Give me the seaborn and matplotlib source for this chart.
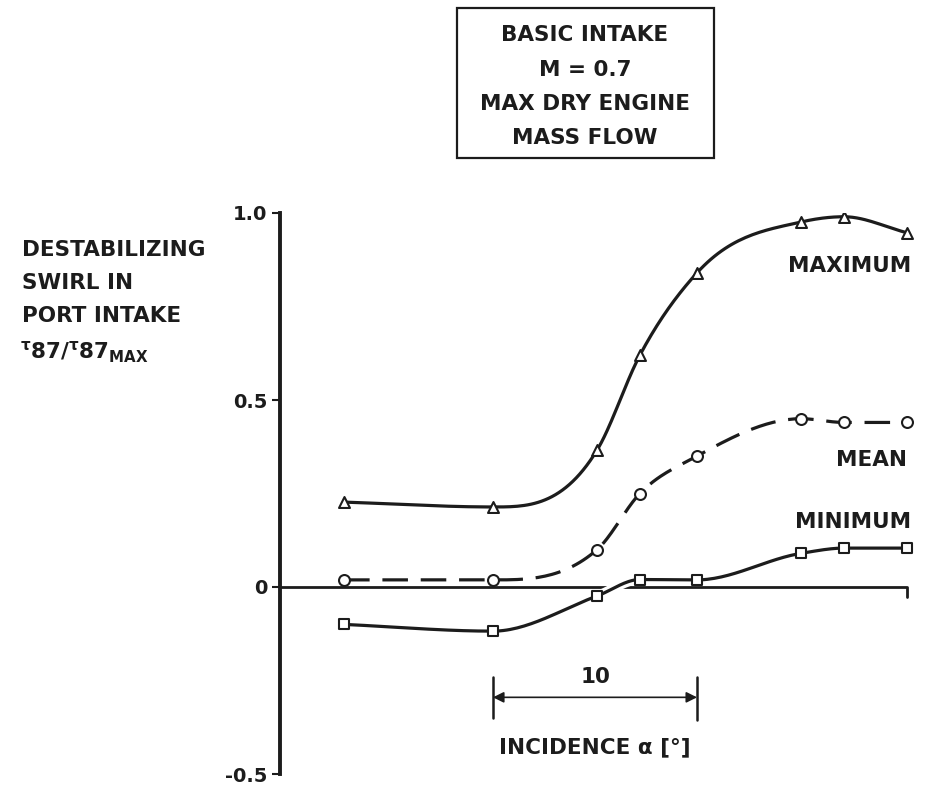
import numpy as np
import pandas as pd
import matplotlib
matplotlib.use("Agg")
import matplotlib.pyplot as plt
import matplotlib.patheffects as pe
from matplotlib.patches import Rectangle
import seaborn as sns

# incidence (deg, relative) and swirl ratio
incidence = [-7.3, 0.0, 5.1, 7.2, 10.0, 15.1, 17.2, 20.3]
swirl_max = [0.227, 0.214, 0.366, 0.62, 0.84, 0.976, 0.99, 0.947]
swirl_mean = [0.019, 0.019, 0.10, 0.25, 0.35, 0.45, 0.44, 0.44]
swirl_min = [-0.10, -0.118, -0.024, 0.02, 0.019, 0.09, 0.104, 0.104]

y_ticks = [-0.5, 0.0, 0.5, 1.0]
y_tick_labels = ["-0.5", "0", "0.5", "1.0"]
box_lines = ["BASIC INTAKE", "M = 0.7", "MAX DRY ENGINE", "MASS FLOW"]
ylabel_lines = ["DESTABILIZING", "SWIRL IN", "PORT INTAKE"]

INK = "#1c1c1c"
FS = 15.5


def smooth(x, y, n=30):
    # limited cubic Hermite through the points, only to draw a smooth pen curve
    x = np.asarray(x, float)
    y = np.asarray(y, float)
    h = np.diff(x)
    d = np.diff(y) / h
    m = np.zeros_like(y)
    for k in range(1, len(x) - 1):
        if d[k - 1] * d[k] > 0:
            avg = (d[k - 1] * h[k] + d[k] * h[k - 1]) / (h[k] + h[k - 1])
            lim = 3 * min(abs(d[k - 1]), abs(d[k]))
            m[k] = np.sign(avg) * min(abs(avg), lim)
    m[0] = d[0]
    m[-1] = d[-1]
    xs, ys = [], []
    for k in range(len(x) - 1):
        t = np.linspace(0, 1, n, endpoint=False)
        h00 = 2 * t**3 - 3 * t**2 + 1
        h10 = t**3 - 2 * t**2 + t
        h01 = -2 * t**3 + 3 * t**2
        h11 = t**3 - t**2
        xs.append(x[k] + t * h[k])
        ys.append(h00 * y[k] + h10 * h[k] * m[k] + h01 * y[k + 1] + h11 * h[k] * m[k + 1])
    xs.append([x[-1]])
    ys.append([y[-1]])
    return np.concatenate(xs), np.concatenate(ys)


sns.set_theme(style="white")
plt.rcParams["font.family"] = ["DejaVu Sans"]
plt.rcParams["font.weight"] = "bold"
plt.rcParams["mathtext.fontset"] = "dejavusans"
plt.rcParams["mathtext.default"] = "bf"

fig = plt.figure(figsize=(9.28, 7.85), dpi=100)
ax = fig.add_axes([280 / 928, 11 / 785, 648 / 928, 561 / 785])
ax.set_xlim(-10.44, 21.32)
ax.set_ylim(-0.5, 1.0)

halo = [pe.Stroke(linewidth=7, foreground="white"), pe.Normal()]

# zero line with small hook at the right end
ax.plot([-10.44, incidence[-1], incidence[-1]], [0, 0, -0.027], color=INK, lw=2, zorder=1)

series = [
    ("MAXIMUM", swirl_max, "^", "-"),
    ("MEAN", swirl_mean, "o", (0, (8, 4))),
    ("MINIMUM", swirl_min, "s", "-"),
]
for name, vals, mk, ls in series:
    xs, ys = smooth(incidence, vals)
    curve = pd.DataFrame({"x": xs, "y": ys})
    sns.lineplot(data=curve, x="x", y="y", ax=ax, sort=False, estimator=None,
                 color=INK, lw=2.3, linestyle=ls, path_effects=halo, zorder=2)
    pts = pd.DataFrame({"x": incidence, "y": vals})
    sns.scatterplot(data=pts, x="x", y="y", ax=ax, marker=mk, s=62,
                    facecolor="white", edgecolor=INK, linewidth=1.5, zorder=3)

# curve labels
ax.text(incidence[-1] + 0.2, swirl_max[-1] - 0.09, "MAXIMUM", ha="right", va="center",
        fontsize=FS, color=INK)
ax.text(incidence[-1], swirl_mean[-1] - 0.10, "MEAN", ha="right", va="center",
        fontsize=FS, color=INK)
ax.text(incidence[-1] + 0.2, swirl_min[-1] + 0.07, "MINIMUM", ha="right", va="center",
        fontsize=FS, color=INK)

# scale bar for incidence
ax.plot([0, 0], [-0.24, -0.35], color=INK, lw=1.8)
ax.plot([10, 10], [-0.24, -0.355], color=INK, lw=1.8)
ax.annotate("", xy=(0, -0.295), xytext=(10, -0.295),
            arrowprops=dict(arrowstyle="<|-|>", color=INK, lw=1.2, mutation_scale=16,
                            shrinkA=0, shrinkB=0))
ax.text(5, -0.24, "10", ha="center", va="center", fontsize=FS, color=INK)
ax.text(5, -0.43, "INCIDENCE α [°]", ha="center", va="center", fontsize=FS, color=INK)

# axes styling
for side in ["top", "right", "bottom"]:
    ax.spines[side].set_visible(False)
ax.spines["left"].set_linewidth(2.8)
ax.spines["left"].set_color(INK)
ax.set_xticks([])
ax.set_yticks(y_ticks)
ax.set_yticklabels(y_tick_labels, fontweight="bold")
ax.tick_params(axis="y", direction="out", length=6, width=1.5, colors=INK,
               labelsize=14, pad=3, left=True)
ax.set_xlabel("")
ax.set_ylabel("")

# y-label block
for i, line in enumerate(ylabel_lines):
    fig.text(22 / 928, 1 - (250 + 33 * i) / 785, line, ha="left", va="center",
             fontsize=FS, color=INK)
fig.text(20 / 928, 1 - 352 / 785, r"${}^{\tau}87/{}^{\tau}87_{MAX}$",
         ha="left", va="center", fontsize=FS, color=INK)

# title box
fig.patches.append(Rectangle((457 / 928, 1 - 158 / 785), 257 / 928, 150 / 785,
                             transform=fig.transFigure, fill=False, edgecolor=INK, lw=1.6))
for i, line in enumerate(box_lines):
    fig.text(585 / 928, 1 - (35 + 34.5 * i) / 785, line, ha="center", va="center",
             fontsize=FS, color=INK)

fig.savefig("out.png", dpi=100)
